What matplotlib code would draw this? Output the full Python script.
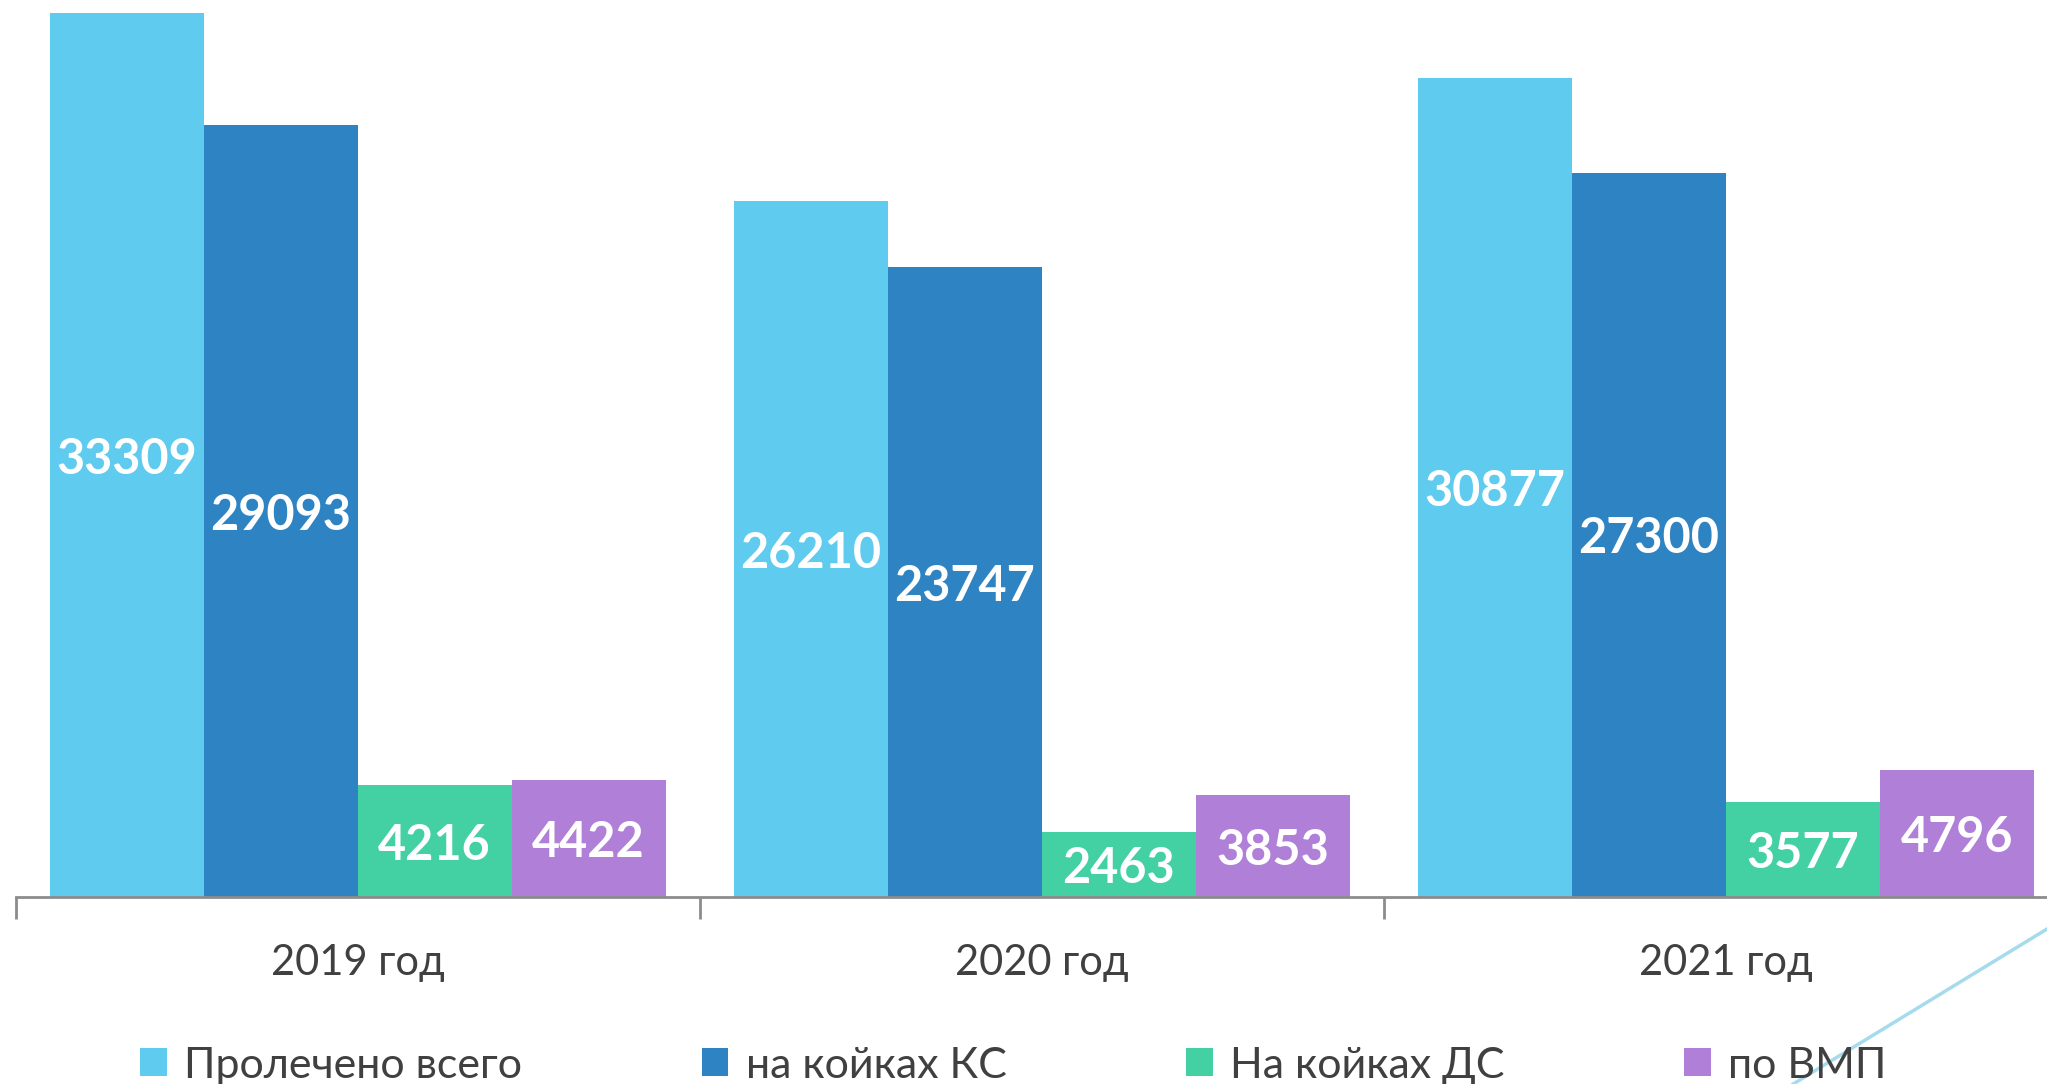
import matplotlib.pyplot as plt
from matplotlib.lines import Line2D
import numpy as np

# data
years = ['2019 год', '2020 год', '2021 год']
series_names = ['Пролечено всего', 'на койках КС', 'На койках ДС', 'по ВМП']
total = [33309, 26210, 30877]
ks = [29093, 23747, 27300]
ds = [4216, 2463, 3577]
vmp = [4422, 3853, 4796]
colors = ['#5FCBEF', '#2E83C3', '#43D1A4', '#B07FD8']

plt.rcParams['font.family'] = ['Lato', 'DejaVu Sans']

fig = plt.figure(figsize=(20.47, 10.84), dpi=100)
ax = fig.add_axes([0.00765, 0.1723, 1.0026, 0.8277])

x = np.arange(len(years))
width = 0.225
all_series = [total, ks, ds, vmp]
for i, vals in enumerate(all_series):
    pos = x - 0.45 + width * i + width / 2
    bars = ax.bar(pos, vals, width, color=colors[i], label=series_names[i])
    # white bold labels in the middle of each bar
    for b, v in zip(bars, vals):
        ax.text(b.get_x() + b.get_width() / 2, v / 2, str(v),
                ha='center', va='center_baseline', color='white',
                fontsize=35, fontweight='bold')

ax.set_xlim(-0.5, 2.5)
ax.set_ylim(0, 33801)
ax.set_yticks([])
for s in ['top', 'right', 'left']:
    ax.spines[s].set_visible(False)
ax.spines['bottom'].set_color('#8c8c8c')
ax.spines['bottom'].set_linewidth(2)

ax.set_xticks(x)
ax.set_xticklabels(years, fontsize=30, color='#404040')
ax.tick_params(axis='x', which='major', length=0, pad=34)
ax.set_xticks([-0.5, 0.5, 1.5, 2.5], minor=True)
ax.tick_params(axis='x', which='minor', length=16, width=2, color='#8c8c8c')

leg = fig.legend(loc='center', bbox_to_anchor=(0.495, 0.017), ncol=4,
                 frameon=False, fontsize=31, handlelength=0.62,
                 handleheight=0.62, handletextpad=0.4, columnspacing=4.17)
for t in leg.get_texts():
    t.set_color('#404040')

# decorative line in the lower right corner
fig.add_artist(Line2D([0.876, 1.0], [0.0, 0.143], transform=fig.transFigure,
                      color='#8fd3e8', lw=2.5, alpha=0.8))

fig.savefig('out.png', dpi=100)
